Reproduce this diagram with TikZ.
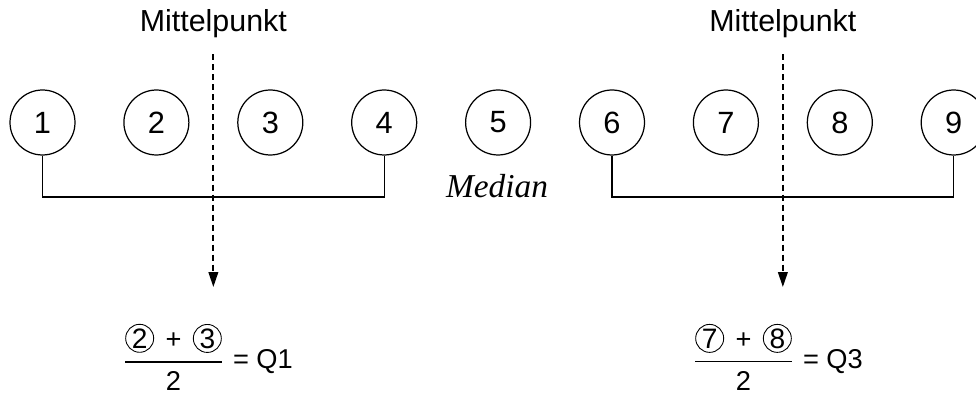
\documentclass[tikz,border=0pt]{standalone}
\usepackage{fontspec}
\setmainfont{Liberation Sans}
\newfontfamily\medianfont{Liberation Serif}
\usetikzlibrary{arrows.meta,positioning}

\tikzset{
	wert/.style={circle, draw, line width=0.7pt, minimum size=1.3cm, inner sep=0pt,
		font=\fontsize{17.5}{20}\selectfont},
	klein/.style={circle, draw, line width=0.5pt, minimum size=0.56cm, inner sep=0pt,
		font=\fontsize{16}{16}\selectfont},
	klammer/.style={line width=0.8pt},
	pfeil/.style={line width=1pt, dash pattern=on 3.4pt off 2.3pt,
		-{Triangle[length=8.5pt, width=5.5pt]}},
	beschriftung/.style={font=\fontsize{17.3}{20}\selectfont},
	formel/.style={inner sep=0pt, font=\fontsize{15.5}{18}\selectfont}
}
\newcommand{\kreis}[1]{\tikz[baseline=(k.base)]\node[klein] (k) {#1};}

\begin{document}
\begin{tikzpicture}[x=0.02cm, y=-0.02cm]
	\useasboundingbox (0,0) rectangle (976,394);

	% Werte
	\foreach \i in {1,...,9} {
		\node[wert] (n\i) at ({42.5+113.9*(\i-1)},122.5) {\i};
	}

	% Klammern unter den Haelften
	\draw[klammer] (n1.south) -- ++(0,41.5) -| (n4.south);
	\draw[klammer] (n6.south) -- ++(0,41.5) -| (n9.south);

	\node[font=\fontsize{19}{22}\selectfont\medianfont\itshape] (med) at (497,186) {Median};

	% Mittelpunkte
	\path (n2) -- (n3) coordinate[midway] (m1);
	\path (n7) -- (n8) coordinate[midway] (m2);
	\node[beschriftung] (mp1) at (m1 |- 0,24) {Mittelpunkt};
	\node[beschriftung] (mp2) at (m2 |- 0,24) {Mittelpunkt};
	\coordinate (e1) at (m1 |- 0,287);
	\coordinate (e2) at (m2 |- 0,287);
	\draw[pfeil] (mp1.south) ++(0,10) -- (e1);
	\draw[pfeil] (mp2.south) ++(0,10) -- (e2);

	% Quartile
	\node[formel] (q1) at (173.5,362) {\setlength\arrayrulewidth{0.8pt}%
		\begin{tabular}{@{}c@{}}\kreis{2}\hspace{0.42em}+\hspace{0.42em}\kreis{3}\\[2pt]\hline\rule{0pt}{16pt}2\end{tabular}};
	\node[formel, right=6pt of q1] (r1) {= Q1};
	\node[formel] (q3) at (743.5,362) {\setlength\arrayrulewidth{0.8pt}%
		\begin{tabular}{@{}c@{}}\kreis{7}\hspace{0.42em}+\hspace{0.42em}\kreis{8}\\[2pt]\hline\rule{0pt}{16pt}2\end{tabular}};
	\node[formel, right=6pt of q3] (r3) {= Q3};
\end{tikzpicture}
\end{document}
